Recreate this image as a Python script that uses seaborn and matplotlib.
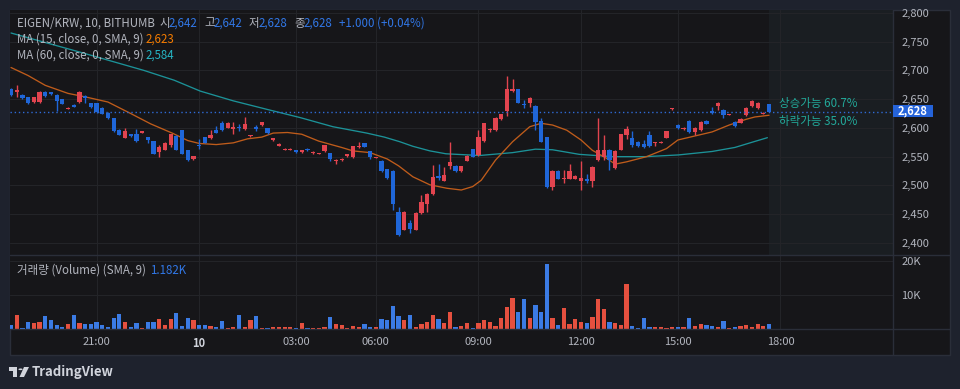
import numpy as np
import pandas as pd
import seaborn as sns
import matplotlib.pyplot as plt
from matplotlib.patches import Rectangle, Circle, Polygon
from matplotlib.lines import Line2D

# EIGEN/KRW 10 min candles (bar index 0 = first visible bar)
opens = [2668, 2662, 2658, 2653, 2645, 2645, 2662, 2662, 2658, 2650,
         2633, 2640, 2645, 2656, 2643, 2643, 2634, 2626, 2617, 2596,
         2583, 2589, 2589, 2592, 2584, 2577, 2558, 2562, 2570, 2586,
         2596, 2561, 2546, 2570, 2584, 2582, 2596, 2609, 2600, 2598,
         2602, 2598, 2586, 2602, 2605, 2599, 2579, 2569, 2562, 2562,
         2561, 2558, 2564, 2556, 2555, 2559, 2556, 2543, 2544, 2551,
         2549, 2566, 2573, 2559, 2548, 2543, 2528, 2525, 2453, 2423,
         2435, 2423, 2452, 2467, 2485, 2517, 2508, 2534, 2534, 2525,
         2543, 2563, 2553, 2577, 2596, 2596, 2615, 2629, 2664, 2667,
         2641, 2643, 2638, 2612, 2584, 2497, 2525, 2512, 2512, 2512,
         2508, 2512, 2507, 2544, 2550, 2562, 2530, 2562, 2588, 2582,
         2576, 2572, 2587, 2573, 2574, 2583, 2632, 2605, 2598, 2612,
         2593, 2596, 2612, 2629, 2638, 2631, 2623, 2611, 2609, 2622,
         2638, 2634, 2625, 2642]
highs = [2669, 2675, 2659, 2654, 2654, 2664, 2664, 2663, 2659, 2651,
         2636, 2641, 2664, 2657, 2644, 2644, 2636, 2627, 2618, 2598,
         2600, 2590, 2598, 2595, 2585, 2578, 2571, 2575, 2590, 2587,
         2597, 2562, 2552, 2580, 2585, 2596, 2604, 2612, 2610, 2610,
         2607, 2619, 2588, 2605, 2611, 2600, 2583, 2573, 2565, 2565,
         2562, 2562, 2565, 2559, 2557, 2571, 2557, 2546, 2547, 2555,
         2569, 2575, 2574, 2560, 2550, 2544, 2529, 2526, 2463, 2455,
         2439, 2453, 2483, 2486, 2535, 2538, 2532, 2575, 2535, 2534,
         2553, 2564, 2597, 2609, 2599, 2619, 2625, 2690, 2685, 2668,
         2648, 2653, 2639, 2618, 2585, 2526, 2526, 2527, 2537, 2518,
         2542, 2519, 2533, 2618, 2587, 2563, 2561, 2590, 2603, 2594,
         2577, 2579, 2595, 2576, 2577, 2595, 2635, 2606, 2601, 2613,
         2601, 2612, 2613, 2636, 2645, 2632, 2625, 2612, 2617, 2636,
         2648, 2645, 2627, 2642]
lows = [2656, 2654, 2651, 2642, 2644, 2644, 2654, 2658, 2629, 2641,
        2632, 2636, 2644, 2644, 2635, 2626, 2624, 2616, 2593, 2587,
        2582, 2585, 2576, 2591, 2573, 2554, 2550, 2561, 2566, 2561,
        2554, 2543, 2545, 2563, 2573, 2581, 2591, 2595, 2599, 2589,
        2594, 2597, 2585, 2594, 2604, 2590, 2578, 2568, 2561, 2561,
        2557, 2557, 2560, 2555, 2554, 2558, 2543, 2538, 2543, 2550,
        2548, 2565, 2566, 2546, 2547, 2524, 2512, 2457, 2412, 2422,
        2418, 2422, 2451, 2453, 2484, 2509, 2507, 2528, 2524, 2524,
        2542, 2549, 2552, 2576, 2593, 2595, 2614, 2621, 2663, 2643,
        2635, 2637, 2596, 2575, 2496, 2492, 2511, 2504, 2511, 2511,
        2492, 2505, 2498, 2543, 2544, 2527, 2529, 2561, 2580, 2566,
        2567, 2565, 2567, 2568, 2573, 2582, 2631, 2598, 2597, 2592,
        2588, 2595, 2606, 2625, 2631, 2618, 2622, 2601, 2608, 2621,
        2637, 2633, 2624, 2628]
closes = [2657, 2666, 2652, 2643, 2653, 2663, 2656, 2659, 2647, 2642,
          2635, 2637, 2663, 2652, 2636, 2627, 2625, 2617, 2594, 2588,
          2594, 2586, 2577, 2594, 2579, 2555, 2566, 2574, 2589, 2562,
          2555, 2544, 2551, 2568, 2574, 2587, 2592, 2596, 2609, 2602,
          2599, 2607, 2587, 2598, 2610, 2591, 2582, 2572, 2564, 2564,
          2558, 2561, 2561, 2558, 2556, 2570, 2546, 2545, 2546, 2554,
          2568, 2569, 2567, 2549, 2549, 2525, 2513, 2468, 2413, 2454,
          2425, 2452, 2472, 2485, 2514, 2513, 2518, 2540, 2525, 2533,
          2552, 2550, 2585, 2608, 2598, 2618, 2624, 2667, 2668, 2644,
          2639, 2652, 2611, 2576, 2497, 2525, 2512, 2513, 2525, 2517,
          2513, 2507, 2532, 2562, 2562, 2544, 2560, 2589, 2598, 2570,
          2568, 2566, 2568, 2575, 2576, 2594, 2634, 2599, 2600, 2593,
          2600, 2611, 2607, 2626, 2644, 2622, 2624, 2603, 2616, 2635,
          2647, 2644, 2626, 2628]
volumes_k = [1.2, 4.2, 0.3, 2.0, 1.8, 2.1, 3.7, 2.5, 1.3, 0.7,
             1.6, 4.2, 1.8, 1.6, 1.6, 2.1, 1.3, 0.7, 3.1, 4.5,
             2.1, 0.7, 1.7, 0.4, 2.1, 2.1, 2.9, 1.3, 2.9, 4.8,
             1.0, 3.1, 2.6, 1.3, 1.3, 1.0, 0.6, 2.3, 0.4, 0.6,
             4.2, 0.7, 2.6, 3.7, 0.4, 0.4, 0.6, 0.6, 0.6, 0.6,
             0.4, 1.7, 0.4, 0.4, 0.4, 0.6, 3.4, 1.6, 1.3, 0.4,
             0.9, 0.7, 1.6, 0.7, 0.7, 2.9, 2.6, 6.8, 3.7, 2.6,
             4.2, 0.7, 1.6, 2.1, 4.2, 2.9, 1.8, 5.0, 0.7, 1.0,
             1.7, 0.4, 1.7, 2.6, 2.0, 0.9, 3.1, 6.4, 9.2, 5.1,
             8.7, 3.1, 7.0, 5.1, 19.2, 3.1, 1.3, 6.1, 1.5, 2.8,
             2.0, 1.7, 3.4, 8.7, 5.9, 2.0, 1.7, 1.2, 13.1, 0.9,
             0.4, 3.1, 0.6, 0.6, 0.6, 0.4, 0.6, 0.6, 0.6, 3.1,
             0.9, 1.5, 1.2, 0.9, 0.6, 2.3, 0.4, 0.6, 0.9, 1.2,
             0.6, 1.5, 0.9, 1.5]

# moving averages (bar index, price)
ma15_x = [0, 3, 6, 10, 13, 17, 21, 24.5, 28.5, 31, 33, 36, 39, 41.5, 44, 46, 48.5,
          51, 54, 58, 60, 63, 66, 68, 70.5, 73.5, 76.5, 79, 81, 82.5, 85, 88, 91,
          93, 95, 97.5, 100, 102, 104.5, 106, 108, 111.5, 115, 117, 120, 123, 126,
          129, 130.5, 133]
ma15_y = [2705, 2691, 2674, 2660, 2654, 2645, 2625, 2607, 2590, 2578, 2573, 2571,
          2574, 2581, 2584, 2591, 2592, 2589, 2577, 2566, 2560, 2557, 2546, 2534,
          2515, 2501, 2495, 2492, 2498, 2509, 2544, 2576, 2602, 2608, 2605, 2596,
          2579, 2561, 2547, 2537, 2541, 2550, 2564, 2579, 2586, 2593, 2605, 2615,
          2619, 2622]
ma60_x = [0, 12, 23.3, 28.6, 33.2, 39, 45, 50.7, 56.5, 62.4, 65.5, 68.2, 70.5, 73.5,
          76.3, 82.2, 88, 92, 95, 99.7, 105.5, 111.3, 117.1, 123, 127, 130, 132.7]
ma60_y = [2765, 2732, 2700, 2683, 2664, 2647, 2632, 2618, 2602, 2591, 2584, 2576,
          2568, 2560, 2555, 2552, 2557, 2563, 2562, 2554, 2550, 2550, 2553, 2559,
          2566, 2575, 2583]

time_ticks = [15, 33, 50, 64, 82, 100, 117, 135]
time_labels = ["21:00", "10", "03:00", "06:00", "09:00", "12:00", "15:00", "18:00"]
price_ticks = [2400, 2450, 2500, 2550, 2600, 2650, 2700, 2750, 2800]
vol_ticks = [10000, 20000]
vol_labels = ["10K", "20K"]
last_price = 2628

OUTER = "#1e222d"
PANEL = "#161619"
GRID = "#232428"
LINE = "#2a2e39"
TXT = "#b2b5be"
UP = "#e2444f"
DN = "#1f66d8"
VUP = "#e5503f"
VDN = "#3b7be4"

sns.set_theme(style="dark", rc={"axes.facecolor": PANEL, "figure.facecolor": OUTER})
plt.rcParams["font.family"] = ["Noto Sans CJK KR", "DejaVu Sans"]

W, H = 960, 389
def fx(p):
    return p / W
def fy(p):
    return 1 - p / H

fig = plt.figure(figsize=(9.6, 3.89), dpi=100, facecolor=OUTER)
fig.patches.append(Rectangle((fx(10), fy(355)), 940 / W, 345 / H, transform=fig.transFigure,
                             facecolor=PANEL, edgecolor=LINE, lw=1, zorder=-1))

ax = fig.add_axes([fx(10), fy(255), 883 / W, 245 / H])
axv = fig.add_axes([fx(10), fy(329), 883 / W, 74 / H])

o = np.array(opens); c = np.array(closes)
hi = np.array(highs); lo = np.array(lows)
idx = np.arange(len(o))
up = c >= o
cols = np.where(up, UP, DN)

# prediction zone right of the last bar
ax.axvspan(133.0, 160, color="#1a1e22", lw=0, zorder=0)

sns.lineplot(x=ma60_x, y=ma60_y, color="#1c9298", lw=0.95, ax=ax, zorder=2)
sns.lineplot(x=ma15_x, y=ma15_y, color="#bf5c1b", lw=0.95, ax=ax, zorder=2)

ax.vlines(idx, lo, hi, colors=cols, lw=1, zorder=3)
ax.bar(idx, np.maximum(np.abs(c - o), 1.3), bottom=np.minimum(o, c), width=0.74,
       color=cols, lw=0, zorder=4)
ax.axhline(last_price, color="#2f6bd6", ls=(0, (1, 2)), lw=1, zorder=5)

ax.set_xlim(-0.18, 154.74)
ax.set_ylim(2379, 2805)
ax.set_xticks(time_ticks)
ax.set_xticklabels([])
ax.set_yticks(price_ticks)
ax.set_yticklabels([f"{p:,}" for p in price_ticks])
ax.yaxis.tick_right()
ax.tick_params(axis="y", length=0, pad=6, labelsize=8, labelcolor=TXT)
ax.tick_params(axis="x", length=0)
ax.grid(True, color=GRID, lw=0.8)
for s in ax.spines.values():
    s.set_visible(False)

# volume pane
vol_df = pd.DataFrame({"bar": idx, "vol": np.array(volumes_k) * 1000,
                       "dir": np.where(up, "up", "down")})
sns.barplot(data=vol_df, x="bar", y="vol", hue="dir", palette={"up": VUP, "down": VDN},
            native_scale=True, dodge=False, width=0.74, errorbar=None, legend=False,
            saturation=1, linewidth=0, ax=axv, zorder=3)
axv.set_xlim(-0.18, 154.74)
axv.set_ylim(0, 21700)
axv.set_xticks(time_ticks)
axv.set_xticklabels(time_labels)
axv.set_yticks(vol_ticks)
axv.set_yticklabels(vol_labels)
axv.yaxis.tick_right()
axv.tick_params(axis="y", length=0, pad=6, labelsize=8, labelcolor=TXT)
axv.tick_params(axis="x", length=0, pad=6, labelsize=8, labelcolor=TXT)
for lab in axv.get_xticklabels():
    if lab.get_text() == "10":
        lab.set_fontweight("bold")
        lab.set_color("#d1d4dc")
axv.set_xlabel("")
axv.set_ylabel("")
axv.grid(True, color=GRID, lw=0.8)
for s in axv.spines.values():
    s.set_visible(False)

# separators
for yy in (255, 329):
    fig.add_artist(Line2D([fx(10), fx(950)], [fy(yy), fy(yy)], color=LINE, lw=1))
fig.add_artist(Line2D([fx(893), fx(893)], [fy(10), fy(355)], color=LINE, lw=1))

# last price label
fig.patches.append(Rectangle((fx(893), fy(116.5)), 40 / W, 12 / H, transform=fig.transFigure,
                             facecolor="#2563d9", lw=0, zorder=5))
fig.text(fx(913), fy(110.5), f"{last_price:,}", color="white", fontsize=8, fontweight="bold",
         ha="center", va="center", zorder=6)

# legend texts
def put(x, y, s, col, size=8.3, **kw):
    fig.text(fx(x), fy(y), s, color=col, fontsize=size, ha="left", va="center", **kw)

BLUE = "#3177e6"
put(17, 23, "EIGEN/KRW, 10, BITHUMB", TXT)
for x, s, col in [(159, "시", TXT), (169, "2,642", BLUE), (204, "고", TXT), (214, "2,642", BLUE),
                  (249, "저", TXT), (259, "2,628", BLUE), (294, "종", TXT), (304, "2,628", BLUE),
                  (339, "+1.000 (+0.04%)", BLUE)]:
    put(x, 23, s, col)
put(17, 39, "MA (15, close, 0, SMA, 9)", TXT)
put(146, 39, "2,623", "#f57c00")
put(17, 55, "MA (60, close, 0, SMA, 9)", TXT)
put(146, 55, "2,584", "#26b5c4")
put(17, 270, "거래량 (Volume) (SMA, 9)", TXT)
put(150, 270, "1.182K", BLUE)
put(779, 104, "상승가능 60.7%", "#22a99a")
put(779, 122, "하락가능 35.0%", "#22a99a")

# TradingView mark
LOGO = "#d1d4dc"
fig.patches.append(Rectangle((fx(9), fy(371)), 8 / W, 4 / H, transform=fig.transFigure, facecolor=LOGO, lw=0))
fig.patches.append(Rectangle((fx(13), fy(377)), 4 / W, 10 / H, transform=fig.transFigure, facecolor=LOGO, lw=0))
fig.patches.append(Circle((fx(20.5), fy(369.3)), 2.1 / W, transform=fig.transFigure, facecolor=LOGO, lw=0))
fig.patches.append(Polygon([(fx(24), fy(367)), (fx(29), fy(367)), (fx(24), fy(377)), (fx(19.5), fy(377))],
                           closed=True, transform=fig.transFigure, facecolor=LOGO, lw=0))
put(32, 372, "TradingView", LOGO, size=9.5, fontweight="bold")

fig.savefig("out.png", dpi=100, facecolor=OUTER)
